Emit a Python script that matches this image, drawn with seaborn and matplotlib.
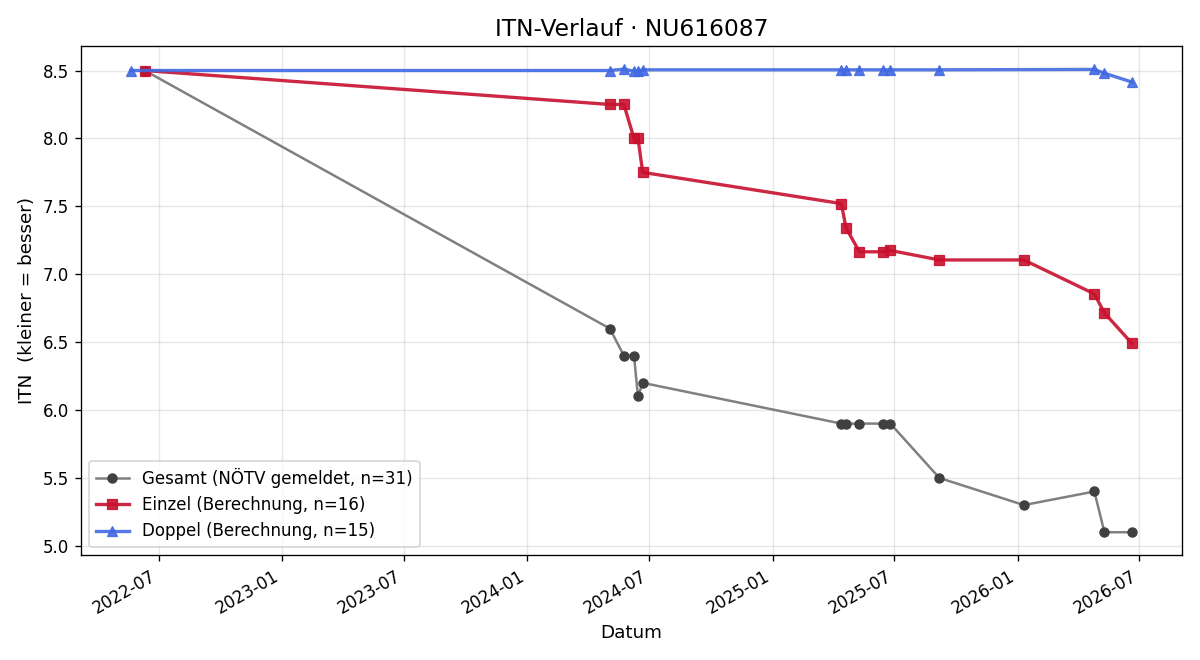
import pandas as pd
import matplotlib
matplotlib.use('Agg')
import matplotlib.pyplot as plt
import matplotlib.dates as mdates
import seaborn as sns

# Gesamt (NÖTV gemeldet)
gesamt_datum = ['2022-06-10', '2024-05-03', '2024-05-24', '2024-06-08', '2024-06-14', '2024-06-21',
                '2025-04-13', '2025-04-20', '2025-05-10', '2025-06-14', '2025-06-25', '2025-09-06',
                '2026-01-10', '2026-04-25', '2026-05-10', '2026-06-20']
gesamt_itn = [8.5, 6.6, 6.4, 6.4, 6.1, 6.2, 5.9, 5.9, 5.9, 5.9, 5.9, 5.5, 5.3, 5.4, 5.1, 5.1]

# Einzel (Berechnung)
einzel_datum = ['2022-06-10', '2024-05-03', '2024-05-24', '2024-06-08', '2024-06-14', '2024-06-21',
                '2025-04-13', '2025-04-20', '2025-05-10', '2025-06-14', '2025-06-25', '2025-09-06',
                '2026-01-10', '2026-04-25', '2026-05-10', '2026-06-20']
einzel_itn = [8.5, 8.25, 8.25, 8.0, 8.0, 7.75, 7.52, 7.34, 7.165, 7.165, 7.175, 7.105, 7.105,
              6.855, 6.715, 6.49]

# Doppel (Berechnung)
doppel_datum = ['2022-05-20', '2024-05-03', '2024-05-24', '2024-06-08', '2024-06-14', '2024-06-21',
                '2025-04-13', '2025-04-20', '2025-05-10', '2025-06-14', '2025-06-25', '2025-09-06',
                '2026-04-25', '2026-05-10', '2026-06-20']
doppel_itn = [8.5, 8.5, 8.51, 8.495, 8.495, 8.505, 8.505, 8.505, 8.505, 8.505, 8.505, 8.505,
              8.508, 8.48, 8.415]

gesamt = pd.DataFrame({'datum': pd.to_datetime(gesamt_datum), 'itn': gesamt_itn})
einzel = pd.DataFrame({'datum': pd.to_datetime(einzel_datum), 'itn': einzel_itn})
doppel = pd.DataFrame({'datum': pd.to_datetime(doppel_datum), 'itn': doppel_itn})

fig, ax = plt.subplots(figsize=(10, 5.5), dpi=120)

sns.lineplot(data=gesamt, x='datum', y='itn', ax=ax, color='#808080', linewidth=1.5,
             marker='o', markersize=5.5, markerfacecolor='#404040', markeredgecolor='#404040',
             label='Gesamt (NÖTV gemeldet, n=31)')
sns.lineplot(data=einzel, x='datum', y='itn', ax=ax, color='#C8102E', alpha=0.9, linewidth=2,
             marker='s', markersize=6.5, markeredgecolor='#C8102E',
             label='Einzel (Berechnung, n=16)')
sns.lineplot(data=doppel, x='datum', y='itn', ax=ax, color='#4169E1', alpha=0.9, linewidth=2,
             marker='^', markersize=6.5, markeredgecolor='#4169E1',
             label='Doppel (Berechnung, n=15)')

ax.xaxis.set_major_locator(mdates.MonthLocator(bymonth=[1, 7]))
ax.xaxis.set_major_formatter(mdates.DateFormatter('%Y-%m'))
ax.grid(True, alpha=0.3)
ax.set_title('ITN-Verlauf · NU616087', fontsize=14)
ax.set_xlabel('Datum', fontsize=11)
ax.set_ylabel('ITN  (kleiner = besser)', fontsize=11)
ax.legend(loc='lower left', fontsize=10)
fig.autofmt_xdate()
plt.tight_layout()
plt.savefig('out.png', dpi=120)
